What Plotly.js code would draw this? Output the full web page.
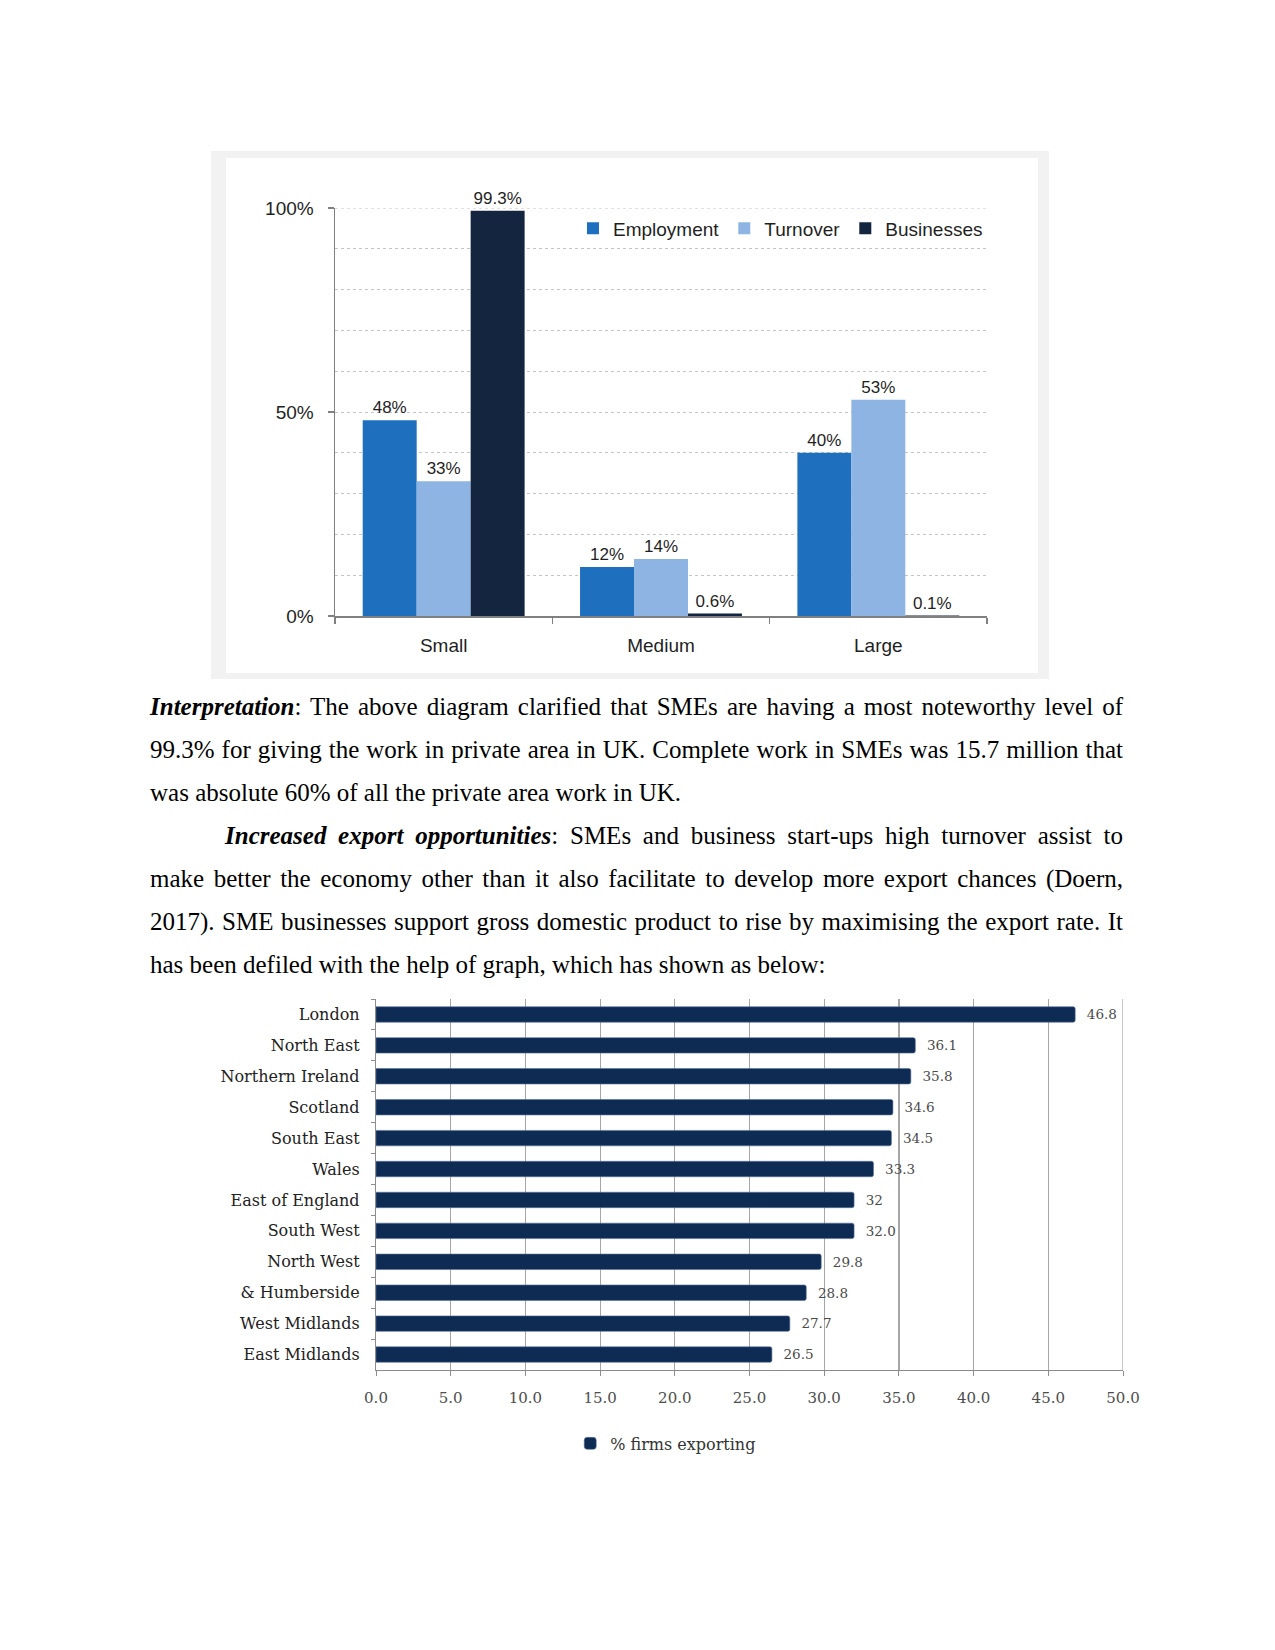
<!DOCTYPE html>
<html>
<head>
<meta charset="utf-8">
<script src="https://cdn.plot.ly/plotly-3.0.1.min.js"></script>
<style>
  html, body { margin:0; padding:0; background:#ffffff; }
  #page { position:relative; width:1275px; height:1650px; background:#fff; overflow:hidden; }
  #box1 { position:absolute; left:211px; top:151px; width:838px; height:528px; background:#f2f2f2; }
  #chart1 { position:absolute; left:226px; top:158px; width:812px; height:515px; }
  #chart2 { position:absolute; left:140px; top:990px; width:1000px; height:480px; }
  .txt { position:absolute; left:150px; width:973px; font-family:"Liberation Serif","Times New Roman",serif; font-size:25px; line-height:42.95px; color:#000; }
  .ln { text-align:justify; text-align-last:justify; }
  .ln.last { text-align-last:left; white-space:nowrap; }
  .ln.ind { padding-left:75px; }
</style>
</head>
<body>
<div id="page">
  <div id="box1"></div>
  <div id="chart1"></div>
  <div class="txt" style="top:686px;">
    <div class="ln"><b><i>Interpretation</i></b>: The above diagram clarified that SMEs are having a most noteworthy level of</div>
    <div class="ln">99.3% for giving the work in private area in UK. Complete work in SMEs was 15.7 million that</div>
    <div class="ln last">was absolute 60% of all the private area work in UK.</div>
    <div class="ln ind"><b><i>Increased export opportunities</i></b>: SMEs and business start-ups high turnover assist to</div>
    <div class="ln">make better the economy other than it also facilitate to develop more export chances (Doern,</div>
    <div class="ln">2017). SME businesses support gross domestic product to rise by maximising the export rate. It</div>
    <div class="ln last">has been defiled with the help of graph, which has shown as below:</div>
  </div>
  <div id="chart2"></div>
</div>
<script>
// ---------- Chart 1 data ----------
const sizeCategories = ['Small', 'Medium', 'Large'];
const employment = [48, 12, 40];
const turnover = [33, 14, 53];
const businesses = [99.3, 0.6, 0.1];
const yTickValues = [0, 50, 100];
const yTickLabels = ['0%', '50%', '100%'];

// ---------- Chart 2 data ----------
const regions = ['London', 'North East', 'Northern Ireland', 'Scotland', 'South East', 'Wales',
                 'East of England', 'South West', 'North West', '& Humberside', 'West Midlands', 'East Midlands'];
const firmsExporting = [46.8, 36.1, 35.8, 34.6, 34.5, 33.3, 32, 32.0, 29.8, 28.8, 27.7, 26.5];
const firmsLabels = ['46.8', '36.1', '35.8', '34.6', '34.5', '33.3', '32', '32.0', '29.8', '28.8', '27.7', '26.5'];

const sans = 'Liberation Sans, Arial, sans-serif';
const serif = 'DejaVu Serif, serif';

const labelFont = {family: sans, size: 17, color: '#1f1f1f'};
function barTrace(name, vals, color) {
  return {
    type: 'bar', name: name, x: sizeCategories, y: vals,
    marker: {color: color},
    text: vals.map(v => v + '%'), textposition: 'outside',
    texttemplate: '%{text}', textfont: labelFont, cliponaxis: false
  };
}

const data1 = [
  barTrace('Employment', employment, '#1f6fbf'),
  barTrace('Turnover', turnover, '#8db4e2'),
  barTrace('Businesses', businesses, '#14253f')
];

const layout1 = {
  width: 812, height: 515,
  margin: {l: 109, r: 51, t: 50, b: 57},
  paper_bgcolor: '#ffffff', plot_bgcolor: '#ffffff',
  barmode: 'group', bargap: 0.255, bargroupgap: 0,
  font: {family: sans, size: 19, color: '#1f1f1f'},
  showlegend: true,
  legend: {orientation: 'h', x: 0.365, xanchor: 'left', y: 0.95, yanchor: 'middle',
           font: {family: sans, size: 19, color: '#1f1f1f'}, bgcolor: 'rgba(0,0,0,0)',
           itemwidth: 30, traceorder: 'normal'},
  shapes: [
    {type: 'line', xref: 'paper', yref: 'y', x0: 0, x1: 1, y0: 100, y1: 100,
     line: {color: '#c4c4c4', width: 1, dash: 'dot'}, layer: 'below'}
  ],
  xaxis: {type: 'category', showline: true, linecolor: '#808080', linewidth: 1.5,
          ticks: 'outside', tickson: 'boundaries', ticklen: 6, tickcolor: '#808080', tickwidth: 1.5,
          showgrid: false, ticklabelstandoff: 12, tickfont: {family: sans, size: 19, color: '#1f1f1f'}},
  yaxis: {range: [0, 100], tickmode: 'array', tickvals: yTickValues, ticktext: yTickLabels,
          showline: true, linecolor: '#808080', linewidth: 1.5, ticks: 'outside', ticklen: 6,
          tickcolor: '#808080', tickwidth: 1.5, zeroline: false,
          showgrid: true, gridcolor: '#c4c4c4', griddash: 'dot', gridwidth: 1,
          minor: {tickmode: 'linear', tick0: 0, dtick: 10, showgrid: true, gridcolor: '#c4c4c4', griddash: 'dot', gridwidth: 1, ticks: ''},
          ticklabelstandoff: 10, tickfont: {family: sans, size: 19, color: '#1f1f1f'}}
};

Plotly.newPlot('chart1', data1, layout1, {displayModeBar: false, staticPlot: true});

// ---------- Chart 2 ----------
const data2 = [{
  type: 'bar', orientation: 'h', name: '% firms exporting',
  y: regions, x: firmsExporting,
  marker: {color: '#0e2b54', line: {color: '#5a7399', width: 0.6}, cornerradius: 2},
  text: firmsLabels, textposition: 'outside', texttemplate: '\u00a0\u00a0%{text}',
  textfont: {family: serif, size: 14, color: '#4a4a4a'}, cliponaxis: false
}];

const layout2 = {
  width: 1000, height: 480,
  margin: {l: 236, r: 17, t: 9, b: 97},
  paper_bgcolor: 'rgba(0,0,0,0)', plot_bgcolor: 'rgba(0,0,0,0)',
  bargap: 0.5,
  font: {family: serif, size: 16, color: '#222222'},
  showlegend: true,
  legend: {orientation: 'h', x: 0.26, xanchor: 'left', y: -0.198, yanchor: 'middle',
           font: {family: serif, size: 16, color: '#333333'}, bgcolor: 'rgba(0,0,0,0)', itemwidth: 30},
  shapes: [
    {type: 'line', xref: 'x', yref: 'paper', x0: 50, x1: 50, y0: 0, y1: 1,
     line: {color: '#a6a6a6', width: 1.2}, layer: 'below'}
  ],
  xaxis: {range: [0, 50], tickmode: 'linear', tick0: 0, dtick: 5, tickformat: '.1f',
          showgrid: true, gridcolor: '#a6a6a6', gridwidth: 1.2, zeroline: false,
          showline: true, linecolor: '#8c8c8c', linewidth: 1.2, ticks: 'outside', ticklen: 5, tickcolor: '#8c8c8c',
          ticklabelstandoff: 9, tickfont: {family: serif, size: 15, color: '#4d4d4d'}},
  yaxis: {type: 'category', autorange: 'reversed', showline: true, linecolor: '#8c8c8c', linewidth: 1.2,
          ticks: 'outside', tickson: 'boundaries', ticklen: 4, tickcolor: '#8c8c8c',
          showgrid: false, ticklabelstandoff: 12, tickfont: {family: serif, size: 16, color: '#222222'}}
};

Plotly.newPlot('chart2', data2, layout2, {displayModeBar: false, staticPlot: true});
</script>
</body>
</html>
